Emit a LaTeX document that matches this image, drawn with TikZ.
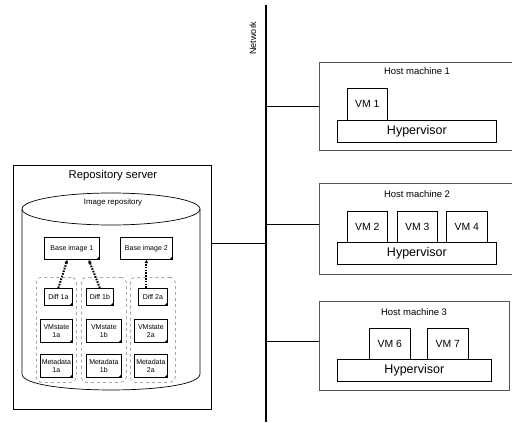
\documentclass[tikz,border=0pt]{standalone}
\usepackage{fontspec}
\setmainfont{Liberation Sans}
\usetikzlibrary{arrows.meta}

\definecolor{BoxLine}{HTML}{555555}
\definecolor{GroupLine}{HTML}{777777}

\tikzset{
  hostbox/.style={draw=BoxLine, line width=0.8pt, anchor=north west, inner sep=0pt},
  vmbox/.style={draw, line width=0.7pt, anchor=north west, inner sep=0pt, font=\fontsize{10.4}{12}\selectfont},
  hypbox/.style={draw, line width=0.7pt, anchor=north west, inner sep=0pt, font=\fontsize{12.5}{14}\selectfont},
  title/.style={font=\fontsize{9.5}{11}\selectfont, inner sep=0pt},
  docbox/.style={draw, line width=0.7pt, anchor=north west, inner sep=0pt, align=center, font=\fontsize{7}{7.8}\selectfont},
  groupbox/.style={draw=GroupLine, dashed, rounded corners=5pt, line width=0.5pt, anchor=north west, inner sep=0pt},
  diffarrow/.style={dash pattern=on 1.6pt off 1.2pt, line width=2pt, -{Latex[length=3.5pt,width=4pt]}},
  wire/.style={line width=0.9pt}
}

\begin{document}
\begin{tikzpicture}[x=1pt, y=-1pt]
  \useasboundingbox (0,0) rectangle (512,423);

  %%%%%%%%%% Network %%%%%%%%%%
  \coordinate (nettop) at (266,5);
  \coordinate (netbot) at (266,422);
  \draw [wire, line width=1.2pt] (nettop) -- (netbot);
  \node [rotate=90, font=\fontsize{9}{11}\selectfont, inner sep=0pt] (netlabel) at (253,38) {Network};

  %%%%%%%%%% Host machine 1 %%%%%%%%%%
  \node [hostbox, minimum width=196pt, minimum height=88pt] (host1) at (319,62) {};
  \node [title] (host1title) at (417,71) {Host machine 1};
  \node [vmbox, minimum width=40pt, minimum height=32pt] (vm1) at (347,88) {VM 1};
  \node [hypbox, minimum width=159pt, minimum height=22pt] (hyp1) at (337,120) {Hypervisor};

  %%%%%%%%%% Host machine 2 %%%%%%%%%%
  \node [hostbox, minimum width=196pt, minimum height=91pt] (host2) at (319,183) {};
  \node [title] (host2title) at (417,194) {Host machine 2};
  \node [vmbox, minimum width=40pt, minimum height=31pt] (vm2) at (347,211) {VM 2};
  \node [vmbox, minimum width=40pt, minimum height=31pt] (vm3) at (397,211) {VM 3};
  \node [vmbox, minimum width=41pt, minimum height=31pt] (vm4) at (446,211) {VM 4};
  \node [hypbox, minimum width=159pt, minimum height=22pt] (hyp2) at (337,242) {Hypervisor};

  %%%%%%%%%% Host machine 3 %%%%%%%%%%
  \node [hostbox, minimum width=190pt, minimum height=89pt] (host3) at (319,301) {};
  \node [title] (host3title) at (414,312) {Host machine 3};
  \node [vmbox, minimum width=41pt, minimum height=31pt] (vm6) at (369,328) {VM 6};
  \node [vmbox, minimum width=41pt, minimum height=31pt] (vm7) at (427,328) {VM 7};
  \node [hypbox, minimum width=154pt, minimum height=22pt] (hyp3) at (337,359) {Hypervisor};

  %%%%%%%%%% Repository server %%%%%%%%%%
  \node [draw, line width=0.8pt, anchor=north west, inner sep=0pt, minimum width=198pt, minimum height=244pt] (repo) at (13,165) {};
  \node [font=\fontsize{11.3}{13}\selectfont, inner sep=0pt] (repotitle) at (113,176) {Repository server};

  % image repository (cylinder)
  \draw [line width=0.7pt] (111,209) ellipse [x radius=89pt, y radius=16pt];
  \draw [line width=0.7pt] (22,209) -- (22,374) .. controls (22,395.3) and (200,395.3) .. (200,374) -- (200,209);
  \node [font=\fontsize{7.8}{9}\selectfont, inner sep=0pt] (imgrepo) at (113,202) {Image repository};

  % base images
  \node [docbox, minimum width=55pt, minimum height=22pt] (b1) at (44,237) {Base image 1};
  \node [docbox, minimum width=52pt, minimum height=22pt] (b2) at (120,237) {Base image 2};

  % VM groups
  \node [groupbox, minimum width=40pt, minimum height=105pt] (g1) at (36,277) {};
  \node [groupbox, minimum width=45pt, minimum height=105pt] (g2) at (81,277) {};
  \node [groupbox, minimum width=45pt, minimum height=105pt] (g3) at (130,277) {};

  \node [docbox, minimum width=28pt, minimum height=17pt] (d1a) at (44,288) {Diff 1a};
  \node [docbox, minimum width=32pt, minimum height=23pt] (s1a) at (40,319) {VMstate\\1a};
  \node [docbox, minimum width=32pt, minimum height=23pt] (m1a) at (40,354) {Metadata\\1a};

  \node [docbox, minimum width=27pt, minimum height=17pt] (d1b) at (86,288) {Diff 1b};
  \node [docbox, minimum width=35pt, minimum height=23pt] (s1b) at (86,319) {VMstate\\1b};
  \node [docbox, minimum width=35pt, minimum height=23pt] (m1b) at (86,354) {Metadata\\1b};

  \node [docbox, minimum width=29pt, minimum height=17pt] (d2a) at (138,288) {Diff 2a};
  \node [docbox, minimum width=33pt, minimum height=23pt] (s2a) at (134,319) {VMstate\\2a};
  \node [docbox, minimum width=33pt, minimum height=23pt] (m2a) at (134,354) {Metadata\\2a};

  % folded corners
  \foreach \n in {b1,b2,d1a,s1a,m1a,d1b,s1b,m1b,d2a,s2a,m2a}
  {
    \fill (\n.south east) -- ([xshift=-3.5pt]\n.south east) -- ([yshift=3.5pt]\n.south east) -- cycle;
  }

  % diffs on base images
  \draw [diffarrow] (d1a.north) -- ([xshift=-4.5pt]b1.south);
  \draw [diffarrow] (d1b.north) -- ([xshift=-11pt]b1.south east);
  \draw [diffarrow] (b2.south |- d2a.north) -- (b2.south);

  %%%%%%%%%% Links to the network %%%%%%%%%%
  \draw [wire] (host1.west) -- (host1.west -| nettop);
  \draw [wire] ([yshift=4.5pt]host2.west) -- ([yshift=4.5pt]host2.west -| nettop);
  \draw [wire] ([yshift=4.5pt]host3.west) -- ([yshift=4.5pt]host3.west -| nettop);
  \draw [wire] ([yshift=44pt]repo.east) -- ([yshift=44pt]repo.east -| nettop);

\end{tikzpicture}
\end{document}
